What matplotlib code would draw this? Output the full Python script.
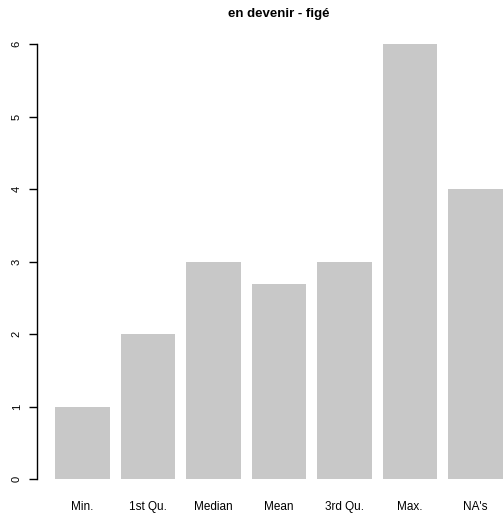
import matplotlib
matplotlib.use("Agg")
import matplotlib.pyplot as plt
import numpy as np

plt.rcParams['font.family'] = ['Liberation Sans', 'DejaVu Sans']

# summary() of the variable, as drawn by R's barplot
labels = ["Min.", "1st Qu.", "Median", "Mean", "3rd Qu.", "Max.", "NA's"]
values = [1, 2, 3, 2.69, 3, 6, 4]
yticks = [0, 1, 2, 3, 4, 5, 6]

fig = plt.figure(figsize=(5.03, 5.19), dpi=100)
# plot region mimics R's default margins (it runs past the right edge)
ax = fig.add_axes([37 / 503, (519 - 496.4) / 519, 484 / 503, 469.8 / 519])

# R barplot: width 1, space 0.2
lefts = 0.2 + 1.2 * np.arange(len(values))
centers = lefts + 0.5
ax.bar(centers, values, width=1.0, color="#c8c8c8", edgecolor="none")

ax.set_xlim(0.2 - 0.328, 8.4 + 0.328)
ax.set_ylim(-0.24, 6.24)

for s in ["top", "right", "bottom"]:
    ax.spines[s].set_visible(False)
ax.spines["left"].set_bounds(0, 6)
ax.spines["left"].set_linewidth(1.0)

ax.set_yticks(yticks)
ax.set_yticklabels([str(t) for t in yticks], rotation=90, va="center", fontsize=8)
ax.tick_params(axis="y", length=6, width=1.0, pad=5)

ax.set_xticks(centers)
ax.set_xticklabels(labels, fontsize=8.5)
ax.tick_params(axis="x", length=0, pad=3)

ax.set_title("en devenir - figé", fontsize=9.5, fontweight="bold", pad=7)

fig.savefig("out.png", dpi=100)
